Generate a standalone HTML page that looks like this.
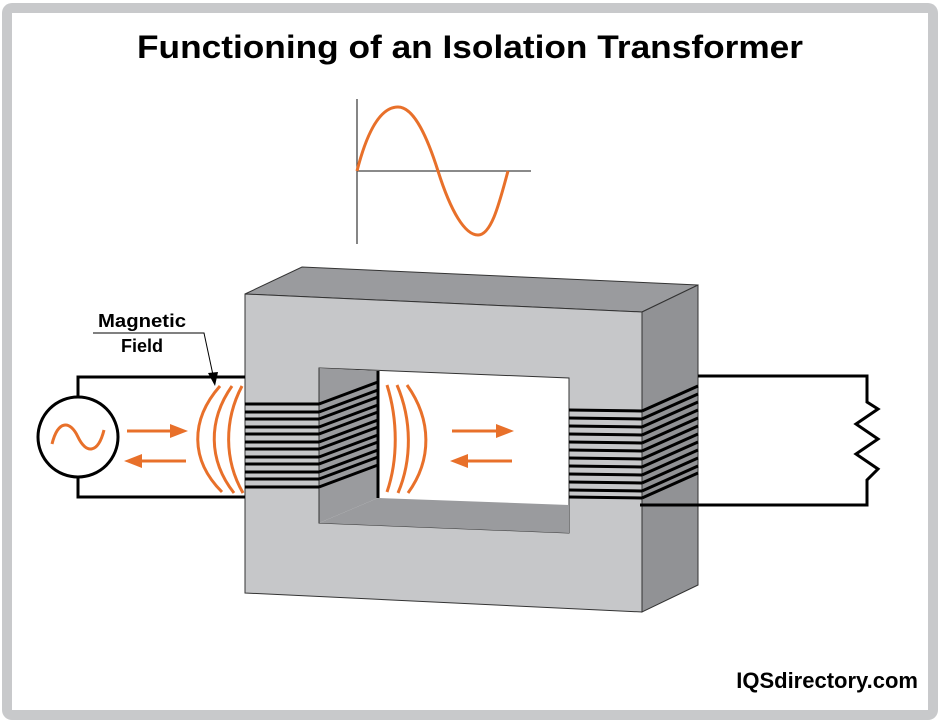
<!DOCTYPE html>
<html><head><meta charset="utf-8"><style>
html,body{margin:0;padding:0;background:#fff}
svg{display:block}
text{font-family:"Liberation Sans",Arial,sans-serif;font-weight:bold}
</style></head><body>
<svg width="940" height="723" viewBox="0 0 940 723" xmlns="http://www.w3.org/2000/svg">
<rect x="2" y="3" width="936" height="717" rx="10" fill="#c8c9cb"/>
<rect x="12" y="13" width="916" height="697" fill="#fff"/>
<text x="470" y="58" font-size="32" text-anchor="middle" textLength="666" lengthAdjust="spacingAndGlyphs">Functioning of an Isolation Transformer</text>

<line x1="357" y1="99" x2="357" y2="244" stroke="#444" stroke-width="1.3"/>
<line x1="357" y1="171" x2="531" y2="171" stroke="#444" stroke-width="1.3"/>
<path d="M357,171 C370,120 385,107 398,107 C412,107 425,130 438,171 C451,212 465,235 478,235 C492,235 500,200 508,171" fill="none" stroke="#e8702a" stroke-width="3"/>

<polygon points="245,294 302,267 698,285 642,312" fill="#9a9b9e" stroke="#333" stroke-width="1"/>
<polygon points="642,312 698,285 698,585 642,612" fill="#919295" stroke="#333" stroke-width="1"/>
<polygon points="245,294 642,312 642,612 245,593" fill="#c6c7c9" stroke="#333" stroke-width="1"/>
<polygon points="319,368 569,378 569,533 319,523" fill="#fff" stroke="#333" stroke-width="1"/>
<polygon points="319,368 378,371 378,498 319,523" fill="#9a9b9e"/>
<polygon points="319,523 378,498 569,505 569,533" fill="#9a9b9e"/>
<line x1="378" y1="371" x2="378" y2="498" stroke="#000" stroke-width="3"/>
<line x1="319" y1="368" x2="319" y2="523" stroke="#333" stroke-width="1"/>

<g stroke="#000" stroke-width="3">
<line x1="245" y1="404" x2="319" y2="404"/><line x1="245" y1="412" x2="319" y2="412"/>
<line x1="245" y1="419" x2="319" y2="419"/><line x1="245" y1="427" x2="319" y2="427"/>
<line x1="245" y1="434" x2="319" y2="434"/><line x1="245" y1="442" x2="319" y2="442"/>
<line x1="245" y1="449" x2="319" y2="449"/><line x1="245" y1="457" x2="319" y2="457"/>
<line x1="245" y1="464" x2="319" y2="464"/><line x1="245" y1="472" x2="319" y2="472"/>
<line x1="245" y1="479" x2="319" y2="479"/><line x1="245" y1="487" x2="319" y2="487"/>
<line x1="319" y1="404" x2="378" y2="382"/><line x1="319" y1="412" x2="378" y2="390"/>
<line x1="319" y1="419" x2="378" y2="397"/><line x1="319" y1="427" x2="378" y2="405"/>
<line x1="319" y1="434" x2="378" y2="412"/><line x1="319" y1="442" x2="378" y2="420"/>
<line x1="319" y1="449" x2="378" y2="427"/><line x1="319" y1="457" x2="378" y2="435"/>
<line x1="319" y1="464" x2="378" y2="442"/><line x1="319" y1="472" x2="378" y2="450"/>
<line x1="319" y1="479" x2="378" y2="457"/><line x1="319" y1="487" x2="378" y2="465"/>
</g>
<g stroke="#000" stroke-width="3">
<line x1="569" y1="410" x2="642" y2="411"/><line x1="569" y1="418" x2="642" y2="419"/>
<line x1="569" y1="426" x2="642" y2="427"/><line x1="569" y1="434" x2="642" y2="435"/>
<line x1="569" y1="442" x2="642" y2="443"/><line x1="569" y1="450" x2="642" y2="451"/>
<line x1="569" y1="458" x2="642" y2="459"/><line x1="569" y1="466" x2="642" y2="467"/>
<line x1="569" y1="474" x2="642" y2="475"/><line x1="569" y1="482" x2="642" y2="483"/>
<line x1="569" y1="490" x2="642" y2="491"/><line x1="569" y1="497" x2="642" y2="498"/>
<line x1="642" y1="411" x2="698" y2="386"/><line x1="642" y1="419" x2="698" y2="394"/>
<line x1="642" y1="427" x2="698" y2="402"/><line x1="642" y1="435" x2="698" y2="410"/>
<line x1="642" y1="443" x2="698" y2="418"/><line x1="642" y1="451" x2="698" y2="426"/>
<line x1="642" y1="459" x2="698" y2="434"/><line x1="642" y1="467" x2="698" y2="442"/>
<line x1="642" y1="475" x2="698" y2="450"/><line x1="642" y1="483" x2="698" y2="458"/>
<line x1="642" y1="491" x2="698" y2="466"/><line x1="642" y1="498" x2="698" y2="473"/>
</g>

<g fill="none" stroke="#000" stroke-width="3">
<polyline points="245,377 78,377 78,397"/>
<polyline points="78,477 78,497 245,497"/>
<circle cx="78" cy="437" r="40" fill="#fff"/>
<polyline points="698,376 867,376 867,402 878,409 856,424 878,439 856,454 878,469 867,480 867,505 640,505"/>
</g>
<path d="M52,444 C58,420 70,420 78,437 C86,454 98,454 104,430" fill="none" stroke="#e8702a" stroke-width="3"/>

<g stroke="#e8702a" stroke-width="3" fill="#e8702a">
<line x1="127" y1="431" x2="172" y2="431"/><polygon points="170,424 188,431 170,438" stroke="none"/>
<line x1="140" y1="461" x2="186" y2="461"/><polygon points="142,454 124,461 142,468" stroke="none"/>
<line x1="452" y1="431" x2="498" y2="431"/><polygon points="496,424 514,431 496,438" stroke="none"/>
<line x1="466" y1="461" x2="512" y2="461"/><polygon points="468,454 450,461 468,468" stroke="none"/>
</g>
<g fill="none" stroke="#e8702a" stroke-width="3">
<path d="M220,386 C190,420 190,460 222,492"/>
<path d="M232,386 C208,420 208,460 234,493"/>
<path d="M242,386 C224,420 224,460 243,493"/>
<path d="M387,385 C398,420 398,460 387,492"/>
<path d="M397,385 C412,420 412,460 398,493"/>
<path d="M407,385 C432,420 432,460 408,493"/>
</g>

<text x="142" y="327" font-size="18" text-anchor="middle" textLength="88" lengthAdjust="spacingAndGlyphs">Magnetic</text>
<text x="142" y="352" font-size="18" text-anchor="middle">Field</text>
<polyline points="93,333 204,333 213,375" fill="none" stroke="#000" stroke-width="1"/>
<polygon points="208,373 218,372 215,386" fill="#000"/>

<text x="918" y="688" font-size="22" text-anchor="end">IQSdirectory.com</text>
</svg>
</body></html>
